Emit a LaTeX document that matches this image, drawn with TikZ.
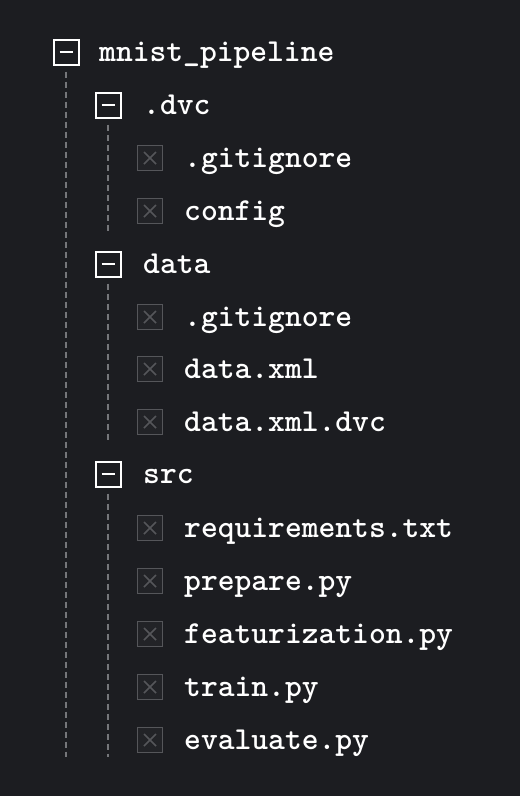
\documentclass[tikz,border=0pt]{standalone}
\usepackage{fontspec}
\usetikzlibrary{positioning}

\definecolor{bg}{HTML}{1C1D21}
\definecolor{fileline}{HTML}{55565A}
\definecolor{filefill}{HTML}{222327}
\definecolor{guidegray}{HTML}{75767A}

\begin{document}
\begin{tikzpicture}
    [%%%%%%%%%%%%%%%%%%%%%%%%%%%%%%
    x=1pt,y=-1pt,
    folder/.style={rectangle,draw=white,line width=2pt,minimum size=25pt,inner sep=0pt,
        path picture={\draw[white,line width=2pt]
            ([xshift=6pt]path picture bounding box.west) -- ([xshift=-6pt]path picture bounding box.east);}},
    file/.style={rectangle,draw=fileline,fill=filefill,line width=1.6pt,minimum size=25pt,inner sep=0pt,
        path picture={\draw[fileline,line width=1.6pt]
            ([shift={(6.5pt,6.5pt)}]path picture bounding box.south west) -- ([shift={(-6.5pt,-6.5pt)}]path picture bounding box.north east)
            ([shift={(6.5pt,-6.5pt)}]path picture bounding box.north west) -- ([shift={(-6.5pt,6.5pt)}]path picture bounding box.south east);}},
    label/.style={anchor=base west,inner sep=0pt,text=white,font=\ttfamily\bfseries\fontsize{32}{32}\selectfont},
    guide/.style={draw=guidegray,line width=1.5pt,dash pattern=on 6pt off 4pt},
    ]%%%%%%%%%%%%%%%%%%%%%%%%%%%%%%

    \fill[bg] (0,0) rectangle (520,796);

    % root
    \node[folder] at (66,52) (root){};
    \node[label] at (99,61) (root_text) {mnist\_pipeline};
    \coordinate (root_end) at (66,757);
    \draw[guide] ([yshift=-6pt]root.south) -- (root_end);

    % .dvc
    \node[folder] at (108,105) (dvc){};
    \node[label] at (143,114) (dvc_text) {.dvc};
    \node[file] at (150,158) (dvc_ignore){};
    \node[label] at (184,167) (dvc_ignore_text) {.gitignore};
    \node[file] at (150,211) (dvc_config){};
    \node[label] at (184,220) (dvc_config_text) {config};
    \coordinate (dvc_end) at (108,232);
    \draw[guide] ([yshift=-6pt]dvc.south) -- (dvc_end);

    % data
    \node[folder] at (108,264) (data){};
    \node[label] at (143,273) (data_text) {data};
    \node[file] at (150,317) (data_ignore){};
    \node[label] at (184,326) (data_ignore_text) {.gitignore};
    \node[file] at (150,369) (data_xml){};
    \node[label] at (184,378) (data_xml_text) {data.xml};
    \node[file] at (150,422) (data_dvc){};
    \node[label] at (184,431) (data_dvc_text) {data.xml.dvc};
    \coordinate (data_end) at (108,442);
    \draw[guide] ([yshift=-6pt]data.south) -- (data_end);

    % src
    \node[folder] at (108,474) (src){};
    \node[label] at (143,483) (src_text) {src};
    \node[file] at (150,528) (src_req){};
    \node[label] at (184,537) (src_req_text) {requirements.txt};
    \node[file] at (150,581) (src_prepare){};
    \node[label] at (184,590) (src_prepare_text) {prepare.py};
    \node[file] at (150,634) (src_feat){};
    \node[label] at (184,643) (src_feat_text) {featurization.py};
    \node[file] at (150,687) (src_train){};
    \node[label] at (184,696) (src_train_text) {train.py};
    \node[file] at (150,740) (src_eval){};
    \node[label] at (184,749) (src_eval_text) {evaluate.py};
    \coordinate (src_end) at (108,757);
    \draw[guide] ([yshift=-6pt]src.south) -- (src_end);

\end{tikzpicture}
\end{document}
